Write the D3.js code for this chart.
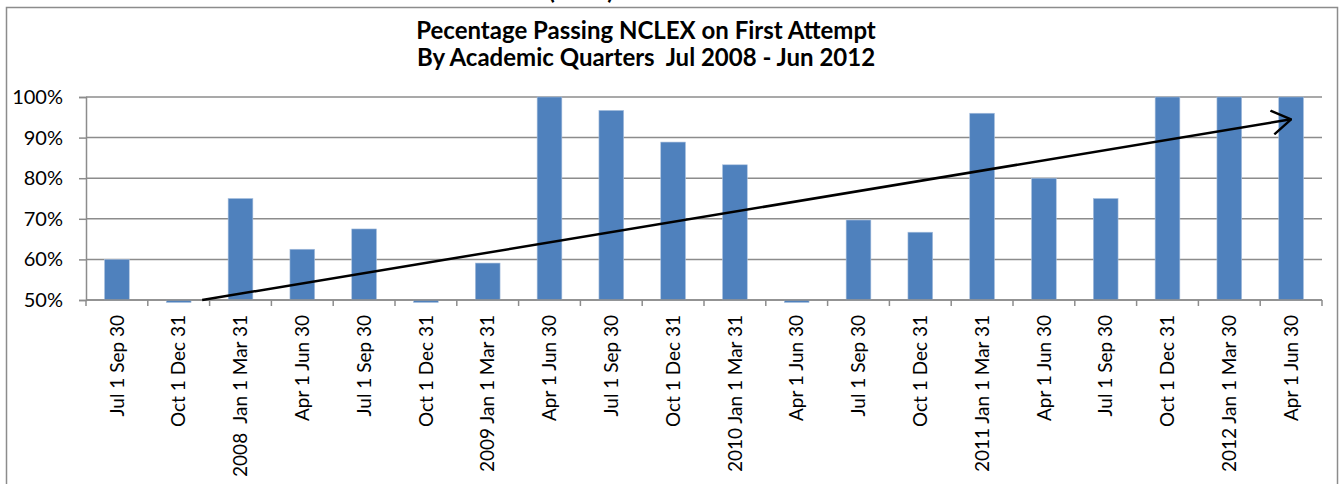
<!DOCTYPE html>
<html lang="en">
<head>
	<meta charset="utf-8">
	<title>NCLEX First Attempt</title>
	<style type="text/css">
		body {
			margin: 0;
			background: #fff;
			font-family: Lato, "Noto Sans", sans-serif;
		}
		svg text { white-space: pre; }
	</style>
</head>
<body>
	<div id="chart"></div>

	<script src="https://cdnjs.cloudflare.com/ajax/libs/d3/7.8.5/d3.min.js"></script>
	<script type="text/javascript">
		// quarters, in the order shown on the axis
		var quarters = [
			"Jul 1 Sep 30", "Oct 1 Dec 31", "2008  Jan 1 Mar 31", "Apr 1 Jun 30",
			"Jul 1 Sep 30", "Oct 1 Dec 31", "2009 Jan 1 Mar 31", "Apr 1 Jun 30",
			"Jul 1 Sep 30", "Oct 1 Dec 31", "2010 Jan 1 Mar 31", "Apr 1 Jun 30",
			"Jul 1 Sep 30", "Oct 1 Dec 31", "2011 Jan 1 Mar 31", "Apr 1 Jun 30",
			"Jul 1 Sep 30", "Oct 1 Dec 31", "2012 Jan 1 Mar 30", "Apr 1 Jun 30"
		];
		// percent passing (0 = no pass / below axis minimum)
		var passRate = [60, 0, 75, 62.5, 67.5, 0, 59.1, 100, 96.7, 88.9,
			83.3, 0, 69.7, 66.7, 96, 80, 75, 100, 100, 100];

		var yTicks = [50, 60, 70, 80, 90, 100];
		var titleLines = ["Pecentage Passing NCLEX on First Attempt",
			"By Academic Quarters  Jul 2008 - Jun 2012"];

		// hand drawn trend arrow: [category position, percent]
		var trendStart = [1.88, 50];
		var trendEnd = [19.5, 94.5];

		var W = 1340, H = 484;
		var plot = { left: 86, right: 1322, top: 97, bottom: 300 };

		var svg = d3.select("#chart").append("svg")
			.attr("width", W)
			.attr("height", H);

		// cut-off heading of the slide above
		svg.append("text")
			.attr("x", 581)
			.attr("y", -1)
			.attr("text-anchor", "middle")
			.style("font-weight", "bold")
			.style("font-size", "24px")
			.text("(cont.)");

		// chart frame
		svg.append("rect")
			.attr("x", 6.5)
			.attr("y", 7.5)
			.attr("width", 1331)
			.attr("height", 500)
			.attr("fill", "none")
			.attr("stroke", "#8c8c8c")
			.attr("stroke-width", 1.5);

		var x = d3.scaleBand()
			.domain(d3.range(quarters.length))
			.range([plot.left, plot.right])
			.paddingInner(0.6)
			.paddingOuter(0.3);

		// continuous version of the category axis for the arrow
		var xPos = d3.scaleLinear()
			.domain([0, quarters.length])
			.range([plot.left, plot.right]);

		var y = d3.scaleLinear()
			.domain([50, 100])
			.range([plot.bottom, plot.top]);

		// gridlines
		svg.append("g")
			.selectAll("line")
			.data(yTicks)
			.join("line")
			.attr("x1", plot.left)
			.attr("x2", plot.right)
			.attr("y1", function (d) { return y(d); })
			.attr("y2", function (d) { return y(d); })
			.attr("stroke", "#8c8c8c")
			.attr("stroke-width", 1.5);

		// y axis
		var yAxis = svg.append("g")
			.attr("transform", "translate(" + plot.left + ",0)")
			.call(d3.axisLeft(y)
				.tickValues(yTicks)
				.tickSize(7)
				.tickPadding(16)
				.tickFormat(function (d) { return d + "%"; }));
		yAxis.select(".domain").attr("stroke", "#8c8c8c").attr("stroke-width", 1.5);
		yAxis.selectAll(".tick line").attr("stroke", "#8c8c8c").attr("stroke-width", 1.5);
		yAxis.selectAll(".tick text")
			.attr("fill", "#000")
			.style("font-family", "Lato, sans-serif")
			.style("font-size", "20px");

		// bars
		svg.append("g")
			.selectAll("rect")
			.data(passRate)
			.join("rect")
			.attr("x", function (d, i) { return x(i); })
			.attr("width", x.bandwidth())
			.attr("y", function (d) { return d > 50 ? y(d) : y(50); })
			.attr("height", function (d) { return d > 50 ? y(50) - y(d) : 2.5; })
			.attr("fill", "#4f81bd")
			.attr("stroke", "#a9c0de")
			.attr("stroke-width", 0.6);

		// x axis: ticks at category boundaries
		var xAxis = svg.append("g")
			.attr("transform", "translate(0," + plot.bottom + ")");
		xAxis.append("line")
			.attr("x1", plot.left)
			.attr("x2", plot.right)
			.attr("stroke", "#8c8c8c")
			.attr("stroke-width", 1.5);
		xAxis.selectAll("line.tick")
			.data(d3.range(quarters.length + 1))
			.join("line")
			.attr("class", "tick")
			.attr("x1", function (d) { return xPos(d); })
			.attr("x2", function (d) { return xPos(d); })
			.attr("y1", 0)
			.attr("y2", 6)
			.attr("stroke", "#8c8c8c")
			.attr("stroke-width", 1.5);
		xAxis.selectAll("text")
			.data(quarters)
			.join("text")
			.attr("transform", function (d, i) {
				return "translate(" + (x(i) + x.bandwidth() / 2) + ",15) rotate(-90)";
			})
			.attr("text-anchor", "end")
			.attr("dy", "0.35em")
			.style("font-size", "19px")
			.text(function (d) { return d; });

		// trend arrow
		var defs = svg.append("defs");
		defs.append("marker")
			.attr("id", "arrow")
			.attr("viewBox", "0 0 22 26")
			.attr("refX", 21)
			.attr("refY", 13)
			.attr("markerWidth", 22)
			.attr("markerHeight", 26)
			.attr("markerUnits", "userSpaceOnUse")
			.attr("orient", "auto")
			.append("path")
			.attr("d", "M2,1 L21,13 L2,25")
			.attr("fill", "none")
			.attr("stroke", "#000")
			.attr("stroke-width", 2.4);

		svg.append("line")
			.attr("x1", xPos(trendStart[0]))
			.attr("y1", y(trendStart[1]))
			.attr("x2", xPos(trendEnd[0]))
			.attr("y2", y(trendEnd[1]))
			.attr("stroke", "#000")
			.attr("stroke-width", 2.5)
			.attr("marker-end", "url(#arrow)");

		// title
		svg.append("g")
			.selectAll("text")
			.data(titleLines)
			.join("text")
			.attr("x", 646)
			.attr("y", function (d, i) { return 39 + i * 27; })
			.attr("text-anchor", "middle")
			.style("font-weight", "bold")
			.style("font-size", "24px")
			.text(function (d) { return d; });
	</script>
</body>
</html>
